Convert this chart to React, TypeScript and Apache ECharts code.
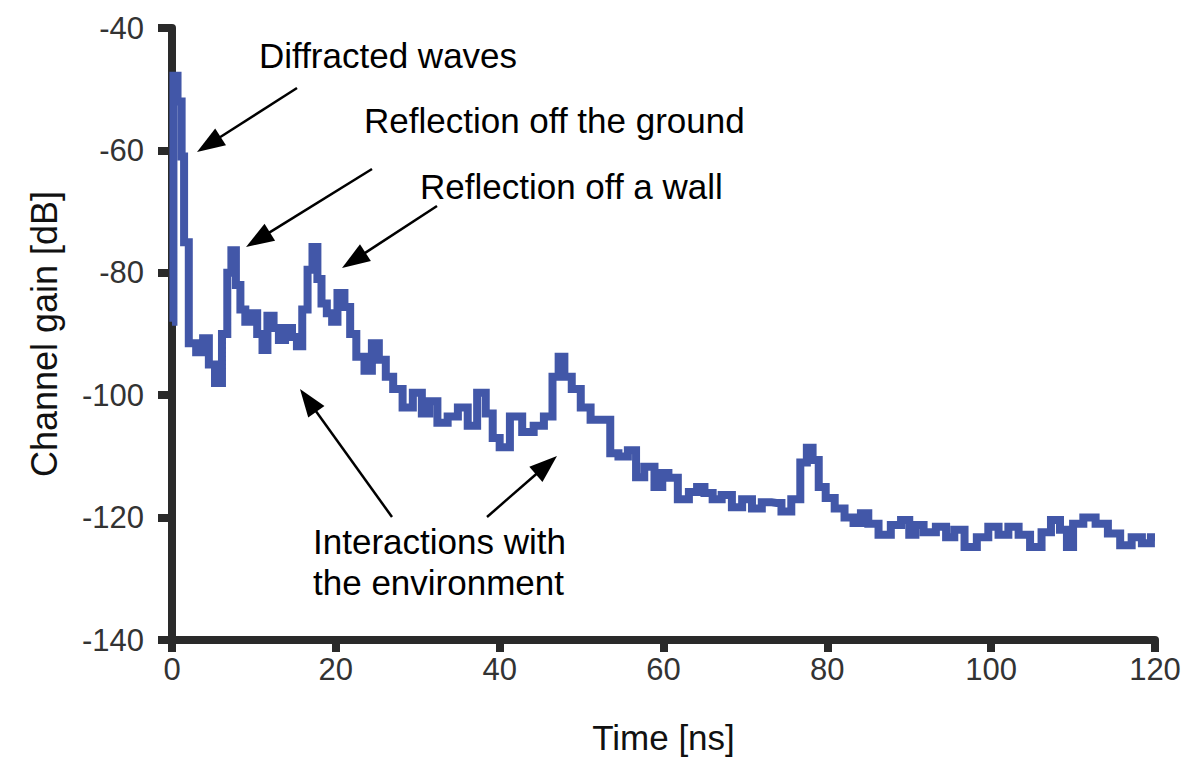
import React, { useEffect, useRef } from "react";
import * as echarts from "echarts";

const timeNs = [
  0, 0.35, 1.0, 1.35, 1.6, 2.5, 3.4, 4.2, 4.8, 5.7, 6.5, 7.0, 7.5, 8.1, 8.6, 9.3, 10.0, 10.8, 11.3, 12.0,
  12.8, 13.3, 14.3, 15.0, 15.5, 16.3, 16.8, 17.5, 18.0, 18.5, 19.3, 19.8, 20.6, 21.5, 22.0, 23.0, 24.0, 24.8,
  25.7, 26.5, 27.5, 28.8, 30.0, 31.0, 31.8, 33.0, 34.3, 35.5, 36.7, 37.8, 38.8, 39.5, 40.5, 42.0, 43.5, 44.8,
  46.0, 46.9, 47.5, 48.3, 49.3, 50.5, 51.7, 53.0, 54.0, 55.0, 56.3, 57.0, 58.3, 59.5, 60.2, 61.0, 62.5, 63.7,
  64.5, 65.5, 66.5, 67.7, 69.0, 70.2, 71.4, 72.6, 73.8, 75.0, 76.2, 77.2, 77.8, 78.6, 79.3, 80.3, 81.5, 82.7,
  83.7, 84.5, 85.5, 87.0, 88.5, 89.5, 90.5, 91.0, 92.5, 94.0, 95.0, 96.0, 97.5, 99.0, 100.3, 101.5, 102.7,
  104.0, 105.5, 106.8, 107.8, 109.0, 109.5, 110.5, 112.0, 113.5, 115.0, 116.5, 117.8, 119.0, 120.0,
];

const gainDb = [
  -88, -47.8, -52, -61, -75, -91.5, -93, -90.7, -95, -98, -90, -80, -76.3, -82, -86, -88, -86.6, -90, -92.6, -87,
  -89, -91, -89, -90.5, -92, -86, -79.5, -75.8, -81, -85, -86.6, -88, -83.3, -85.6, -90, -93.7, -96, -91.5,
  -94.2, -97, -99, -102, -99.6, -103, -101, -104.5, -103.5, -102, -105, -99.6, -103, -107, -108.5, -103.5, -106, -105,
  -103.5, -97, -93.7, -97, -99, -102, -104, -104, -109.5, -110, -109, -113.4, -111.7, -115, -112.7, -113.5, -117, -115.8,
  -115, -116, -117, -116.3, -118.3, -117, -118.5, -117.5, -117.6, -119, -117, -111, -108.6, -110.6, -115, -116.8, -118.5, -120,
  -120.9, -119.3, -121, -122.8, -121.2, -120.4, -122.8, -121.2, -122.4, -121.5, -123.2, -122, -124.8, -123.2, -121.5, -122.8, -121.5,
  -122.8, -124.8, -122.4, -120.4, -122, -124.8, -121, -120, -121, -122.6, -124.5, -123.2, -124.2, -123.2,
];

const xTicks = { min: 0, max: 120, interval: 20 };
const yTicks = { min: -140, max: -40, interval: 20 };

const annotations = [
  { text: "Diffracted waves", x: 259, y: 55 },
  { text: "Reflection off the ground", x: 364, y: 120 },
  { text: "Reflection off a wall", x: 420, y: 186 },
  { text: "Interactions with", x: 313, y: 541 },
  { text: "the environment", x: 313, y: 582 },
];

const arrows = [
  { from: [297, 88], to: [197, 152] },
  { from: [372, 169], to: [246, 247] },
  { from: [437, 206], to: [342, 268] },
  { from: [392, 517], to: [300, 389] },
  { from: [487, 517], to: [557, 456] },
];

function arrowGraphics() {
  const els: any[] = [];
  const headLen = 28;
  const headHalf = 10;
  arrows.forEach((a) => {
    const [x1, y1] = a.from;
    const [x2, y2] = a.to;
    const dx = x2 - x1;
    const dy = y2 - y1;
    const len = Math.sqrt(dx * dx + dy * dy);
    const ux = dx / len;
    const uy = dy / len;
    const bx = x2 - ux * headLen;
    const by = y2 - uy * headLen;
    els.push({
      type: "line",
      shape: { x1, y1, x2: bx + ux * 4, y2: by + uy * 4 },
      style: { stroke: "#000", lineWidth: 2.5 },
    });
    els.push({
      type: "polygon",
      shape: {
        points: [
          [x2, y2],
          [bx - uy * headHalf, by + ux * headHalf],
          [bx + uy * headHalf, by - ux * headHalf],
        ],
      },
      style: { fill: "#000" },
    });
  });
  return els;
}

export default function App() {
  const ref = useRef<HTMLDivElement>(null);
  useEffect(() => {
    if (!ref.current) return;
    const chart = echarts.init(ref.current, undefined, { renderer: "svg" });
    const data = timeNs.map((t, i) => [t, gainDb[i]]);
    const axisColor = "#2a2a2a";
    const labelFont = {
      fontFamily: "'Liberation Sans Narrow', 'Liberation Sans', Arial, sans-serif",
      fontSize: 31,
      color: "#333",
    };
    chart.setOption({
      animation: false,
      backgroundColor: "#fff",
      grid: { left: 172, right: 45, top: 28, bottom: 140, containLabel: false },
      xAxis: {
        type: "value",
        min: xTicks.min,
        max: xTicks.max,
        interval: xTicks.interval,
        name: "Time [ns]",
        nameLocation: "middle",
        nameGap: 80,
        nameTextStyle: { fontFamily: "'Liberation Sans', Arial, sans-serif", fontSize: 35, color: "#111" },
        axisLine: { show: true, onZero: false, lineStyle: { color: axisColor, width: 8 } },
        axisTick: { show: true, length: 12, lineStyle: { color: axisColor, width: 8 } },
        axisLabel: { ...labelFont, margin: 14 },
        splitLine: { show: false },
      },
      yAxis: {
        type: "value",
        min: yTicks.min,
        max: yTicks.max,
        interval: yTicks.interval,
        name: "Channel gain [dB]",
        nameLocation: "middle",
        nameGap: 110,
        nameRotate: 90,
        nameTextStyle: { fontFamily: "'Liberation Sans', Arial, sans-serif", fontSize: 36, color: "#111" },
        axisLine: { show: true, onZero: false, lineStyle: { color: axisColor, width: 8 } },
        axisTick: { show: true, length: 14, lineStyle: { color: axisColor, width: 8 } },
        axisLabel: { ...labelFont, margin: 28 },
        splitLine: { show: false },
      },
      series: [
        {
          type: "line",
          step: "middle",
          data,
          showSymbol: false,
          symbol: "none",
          lineStyle: { color: "#4257a8", width: 8, join: "miter" },
          z: 1,
        },
      ],
      graphic: [
        ...annotations.map((a) => ({
          type: "text",
          x: a.x,
          y: a.y,
          style: {
            text: a.text,
            fontFamily: "'Liberation Sans', Arial, sans-serif",
            fontSize: 35,
            fill: "#000",
            textAlign: "left",
            textVerticalAlign: "middle",
          },
        })),
        ...arrowGraphics(),
      ],
    });
    return () => chart.dispose();
  }, []);
  return (
    <div
      ref={ref}
      style={{ position: "fixed", left: 0, top: 0, width: 1200, height: 780, background: "#fff" }}
    />
  );
}
